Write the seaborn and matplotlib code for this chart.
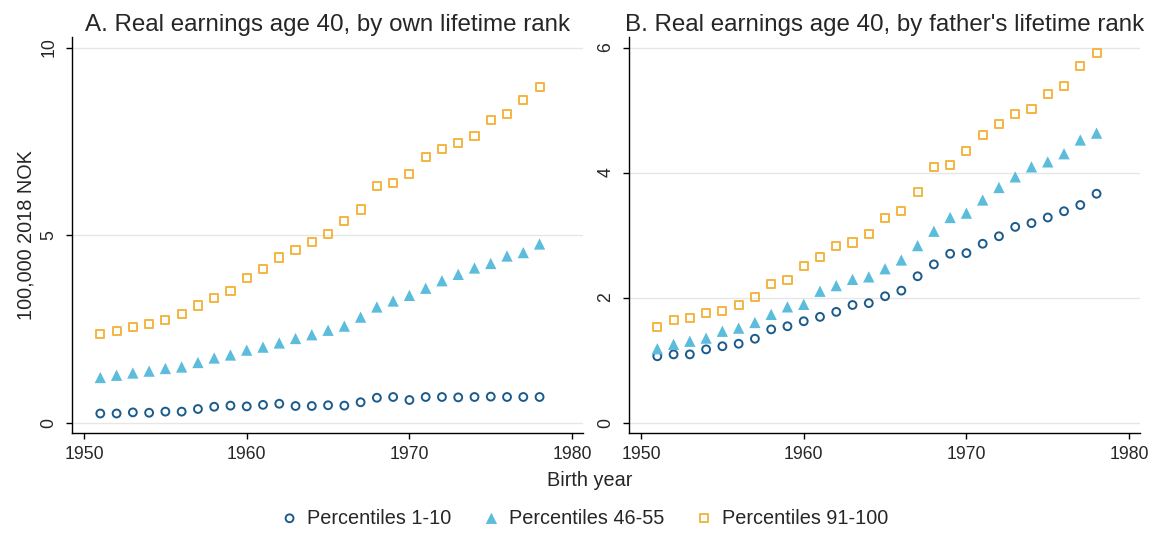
import numpy as np
import pandas as pd
import matplotlib
matplotlib.use("Agg")
import matplotlib.pyplot as plt
import seaborn as sns

# Năm sinh
years = list(range(1951, 1979))

# Panel A: thu nhập theo thứ hạng của chính mình (100,000 NOK 2018)
own_p1_10 = [0.24, 0.24, 0.27, 0.26, 0.29, 0.29, 0.36, 0.42, 0.45, 0.43, 0.47, 0.50, 0.44, 0.44,
             0.46, 0.45, 0.54, 0.66, 0.68, 0.60, 0.68, 0.68, 0.67, 0.68, 0.69, 0.68, 0.68, 0.68]
own_p46_55 = [1.20, 1.26, 1.32, 1.37, 1.44, 1.48, 1.60, 1.72, 1.80, 1.93, 2.01, 2.12, 2.24, 2.34,
              2.46, 2.57, 2.81, 3.08, 3.24, 3.39, 3.58, 3.78, 3.95, 4.12, 4.24, 4.44, 4.53, 4.76]
own_p91_100 = [2.35, 2.45, 2.55, 2.62, 2.74, 2.89, 3.12, 3.31, 3.51, 3.86, 4.09, 4.40, 4.60, 4.81,
               5.03, 5.38, 5.68, 6.31, 6.38, 6.62, 7.08, 7.29, 7.46, 7.63, 8.06, 8.22, 8.60, 8.95]

# Panel B: thu nhập theo thứ hạng của cha
fat_p1_10 = [1.06, 1.09, 1.09, 1.17, 1.22, 1.26, 1.34, 1.49, 1.54, 1.62, 1.69, 1.77, 1.88, 1.91,
             2.02, 2.11, 2.34, 2.53, 2.70, 2.71, 2.86, 2.98, 3.13, 3.19, 3.28, 3.38, 3.48, 3.66]
fat_p46_55 = [1.18, 1.25, 1.30, 1.35, 1.46, 1.51, 1.60, 1.73, 1.85, 1.89, 2.10, 2.19, 2.29, 2.33,
              2.46, 2.60, 2.83, 3.06, 3.28, 3.35, 3.56, 3.76, 3.93, 4.09, 4.17, 4.30, 4.52, 4.63]
fat_p91_100 = [1.53, 1.64, 1.67, 1.75, 1.79, 1.88, 2.01, 2.21, 2.28, 2.51, 2.65, 2.82, 2.88, 3.02,
               3.27, 3.38, 3.69, 4.09, 4.12, 4.35, 4.60, 4.78, 4.94, 5.02, 5.26, 5.38, 5.71, 5.91]

labels = ["Percentiles 1-10", "Percentiles 46-55", "Percentiles 91-100"]
titles = ["A. Real earnings age 40, by own lifetime rank",
          "B. Real earnings age 40, by father's lifetime rank"]

navy = "#1a5b8c"
sky = "#5bbcdc"
gold = "#f2b53f"

sns.set_style("white")
plt.rcParams["font.family"] = ["Liberation Sans", "DejaVu Sans"]

fig = plt.figure(figsize=(11.53, 5.33), dpi=100)
ax_a = fig.add_axes([72 / 1153, 1 - 433 / 533, 511 / 1153, 396 / 533])
ax_b = fig.add_axes([629 / 1153, 1 - 433 / 533, 511 / 1153, 396 / 533])

panels = [
    (ax_a, [own_p1_10, own_p46_55, own_p91_100], [0, 5, 10], (-0.28, 10.28)),
    (ax_b, [fat_p1_10, fat_p46_55, fat_p91_100], [0, 2, 4, 6], (-0.168, 6.168)),
]

for i, (ax, series, yticks, ylim) in enumerate(panels):
    df = pd.DataFrame({"year": years, "p1": series[0], "p46": series[1], "p91": series[2]})
    # vòng tròn rỗng
    sns.scatterplot(data=df, x="year", y="p1", ax=ax, marker="o", s=32,
                    facecolors="none", edgecolor=navy, linewidth=1.4, label=labels[0], zorder=3)
    # tam giác đặc
    sns.scatterplot(data=df, x="year", y="p46", ax=ax, marker="^", s=66,
                    color=sky, edgecolor="none", linewidth=0, label=labels[1], zorder=3)
    # hình vuông rỗng
    sns.scatterplot(data=df, x="year", y="p91", ax=ax, marker="s", s=34,
                    facecolors="none", edgecolor=gold, linewidth=1.4, label=labels[2], zorder=3)

    ax.set_xlim(1949.26, 1980.67)
    ax.set_ylim(*ylim)
    ax.set_xticks([1950, 1960, 1970, 1980])
    ax.set_yticks(yticks)
    ax.grid(axis="y", color="#e6e6e6", linewidth=1)
    ax.grid(axis="x", visible=False)
    ax.set_axisbelow(True)
    for side in ["top", "right"]:
        ax.spines[side].set_visible(False)
    for side in ["left", "bottom"]:
        ax.spines[side].set_color("black")
        ax.spines[side].set_linewidth(1.0)
    ax.tick_params(axis="both", which="major", direction="out", length=4.5, width=1,
                   color="black", labelsize=12.7, left=True, bottom=True)
    ax.tick_params(axis="x", pad=5)
    ax.tick_params(axis="y", pad=6, labelrotation=90)
    for t in ax.get_yticklabels():
        t.set_va("center")
    ax.set_title(titles[i], fontsize=17.4, pad=4.5)
    ax.set_xlabel("")
    ax.set_ylabel("")
    ax.get_legend().remove()

ax_a.set_ylabel("100,000 2018 NOK", fontsize=14.3)
ax_a.yaxis.set_label_coords(-0.072, 0.5)

fig.text(590 / 1153, 1 - 480 / 533, "Birth year", fontsize=14.3, ha="center", va="center")

handles, leg_labels = ax_a.get_legend_handles_labels()
fig.legend(handles, leg_labels, loc="center", bbox_to_anchor=(585 / 1153, 1 - 518 / 533),
           ncol=3, frameon=False, fontsize=14.3, handlelength=0.8, handletextpad=0.5,
           columnspacing=1.6, borderaxespad=0)

fig.savefig("out.png", dpi=100, facecolor="white")
